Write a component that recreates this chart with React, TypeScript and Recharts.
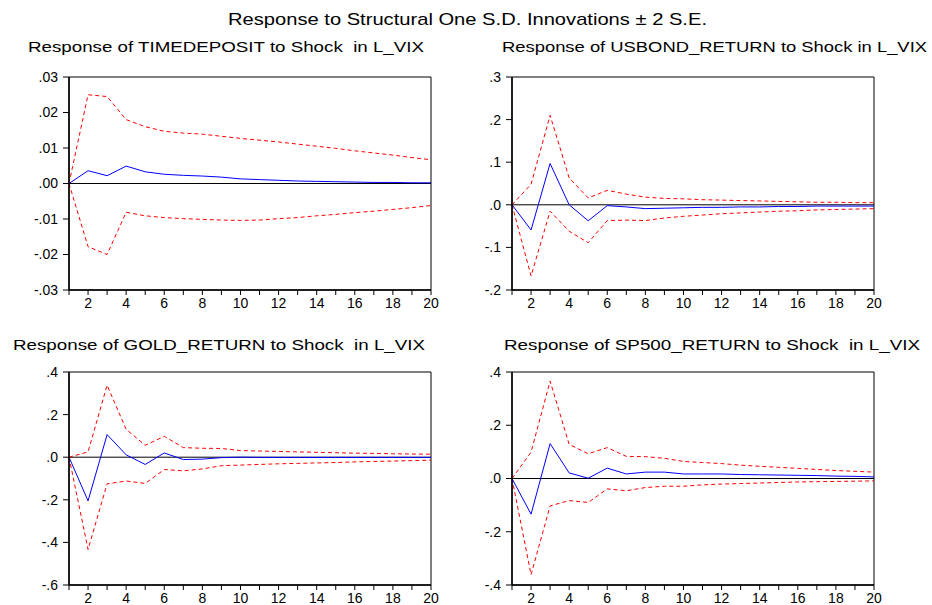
import React from 'react';
import { LineChart, Line, XAxis, YAxis, ReferenceLine, ReferenceArea } from 'recharts';

const periods = [1,2,3,4,5,6,7,8,9,10,11,12,13,14,15,16,17,18,19,20];
const xTicks = periods;

// TIMEDEPOSIT
const tdResp = [0,0.0036,0.0022,0.0049,0.0033,0.0026,0.0023,0.0021,0.0018,0.0013,0.0011,0.0009,0.0007,0.0006,0.0005,0.0004,0.0003,0.0003,0.0002,0.0002];
const tdUp = [0,0.025,0.0245,0.018,0.016,0.0147,0.0142,0.0139,0.0133,0.0127,0.0122,0.0117,0.0111,0.0105,0.0099,0.0092,0.0086,0.008,0.0073,0.0067];
const tdLo = [0,-0.0178,-0.02,-0.0081,-0.0091,-0.0096,-0.0099,-0.0101,-0.0103,-0.0104,-0.0103,-0.0099,-0.0096,-0.0091,-0.0087,-0.0082,-0.0078,-0.0073,-0.0068,-0.0062];
const tdTicks = [-0.03,-0.02,-0.01,0,0.01,0.02,0.03];

// USBOND_RETURN
const ubResp = [0,-0.059,0.097,0.0,-0.0375,-0.002,-0.005,-0.009,-0.008,-0.007,-0.006,-0.006,-0.005,-0.005,-0.004,-0.004,-0.003,-0.003,-0.003,-0.003];
const ubUp = [0,0.048,0.21,0.063,0.016,0.034,0.025,0.018,0.015,0.014,0.012,0.011,0.01,0.009,0.008,0.007,0.006,0.006,0.005,0.005];
const ubLo = [0,-0.167,-0.015,-0.062,-0.089,-0.037,-0.036,-0.037,-0.031,-0.027,-0.024,-0.021,-0.019,-0.017,-0.015,-0.014,-0.012,-0.011,-0.01,-0.009];
const ubTicks = [-0.2,-0.1,0,0.1,0.2,0.3];

// GOLD_RETURN
const gdResp = [0,-0.205,0.106,0.011,-0.034,0.02,-0.011,-0.009,-0.002,0,-0.001,-0.001,-0.001,-0.001,-0.001,-0.001,-0.001,-0.001,-0.001,-0.001];
const gdUp = [0,0.025,0.338,0.131,0.056,0.098,0.045,0.042,0.041,0.031,0.029,0.027,0.025,0.023,0.021,0.019,0.018,0.016,0.015,0.014];
const gdLo = [0,-0.433,-0.125,-0.112,-0.123,-0.058,-0.064,-0.055,-0.04,-0.037,-0.034,-0.031,-0.029,-0.027,-0.025,-0.022,-0.02,-0.018,-0.016,-0.014];
const gdTicks = [-0.6,-0.4,-0.2,0,0.2,0.4];

// SP500_RETURN
const spResp = [0,-0.134,0.131,0.021,0.001,0.039,0.017,0.024,0.024,0.017,0.017,0.017,0.015,0.014,0.013,0.012,0.011,0.009,0.008,0.006];
const spUp = [0,0.099,0.366,0.128,0.093,0.116,0.083,0.082,0.076,0.064,0.06,0.056,0.05,0.046,0.042,0.038,0.034,0.03,0.027,0.024];
const spLo = [0,-0.361,-0.103,-0.083,-0.09,-0.039,-0.046,-0.034,-0.029,-0.029,-0.024,-0.021,-0.019,-0.017,-0.015,-0.013,-0.012,-0.011,-0.01,-0.009];
const spTicks = [-0.4,-0.2,0,0.2,0.4];

const mainTitle = 'Response to Structural One S.D. Innovations \u00b1 2 S.E.';
const titles = [
  'Response of TIMEDEPOSIT to Shock  in L_VIX',
  'Response of USBOND_RETURN to Shock in L_VIX',
  'Response of GOLD_RETURN to Shock  in L_VIX',
  'Response of SP500_RETURN to Shock  in L_VIX',
];

const FONT = '"Liberation Sans", Arial, sans-serif';

function build(resp: number[], up: number[], lo: number[]) {
  return periods.map((p, i) => ({ p, resp: resp[i], up: up[i], lo: lo[i] }));
}

function fmt(decimals: number) {
  return (v: number) => {
    let s = v.toFixed(decimals);
    if (s.startsWith('-0')) s = '-' + s.slice(2);
    else if (s.startsWith('0')) s = s.slice(1);
    return s;
  };
}

type PanelProps = {
  left: number; top: number;
  resp: number[]; up: number[]; lo: number[];
  ticks: number[]; decimals: number;
};

function Panel({ left, top, resp, up, lo, ticks, decimals }: PanelProps) {
  const data = build(resp, up, lo);
  const yMin = ticks[0];
  const yMax = ticks[ticks.length - 1];
  const tickStyle = { fill: '#000', fontSize: 14, fontFamily: FONT };
  return (
    <div style={{ position: 'absolute', left, top }}>
      <LineChart width={470} height={270} data={data} margin={{ top: 17, right: 39, bottom: 10, left: 0 }}>
        <XAxis
          dataKey="p" type="number" domain={[1, 20]} ticks={xTicks} interval={0}
          tickFormatter={(v: number) => (v % 2 === 0 ? String(v) : '')}
          tick={tickStyle} tickSize={5} tickMargin={3} height={30}
          axisLine={{ stroke: '#000', strokeWidth: 1.5 }} tickLine={{ stroke: '#000' }}
          allowDataOverflow
        />
        <YAxis
          type="number" domain={[yMin, yMax]} ticks={ticks} interval={0}
          tickFormatter={fmt(decimals)} tick={tickStyle} tickSize={6} tickMargin={5} width={69}
          axisLine={{ stroke: '#000', strokeWidth: 1.5 }} tickLine={{ stroke: '#000' }}
          allowDataOverflow
        />
        <ReferenceArea x1={1} x2={20} y1={yMin} y2={yMax} fill="none" stroke="#000" strokeWidth={1} />
        <ReferenceLine y={0} stroke="#000" strokeWidth={1} />
        <Line type="linear" dataKey="up" stroke="#ff0000" strokeDasharray="4 3" strokeWidth={1} dot={false} isAnimationActive={false} />
        <Line type="linear" dataKey="lo" stroke="#ff0000" strokeDasharray="4 3" strokeWidth={1} dot={false} isAnimationActive={false} />
        <Line type="linear" dataKey="resp" stroke="#0000ff" strokeWidth={1} dot={false} isAnimationActive={false} />
      </LineChart>
    </div>
  );
}

export default function App() {
  const ts = { whiteSpace: 'pre' as const };
  return (
    <div style={{ position: 'absolute', left: 0, top: 0, width: 932, height: 605, background: '#fff', fontFamily: FONT }}>
      <svg width={932} height={605} style={{ position: 'absolute', left: 0, top: 0 }}>
        <text style={ts} x={228} y={25} fontSize={17} fontFamily={FONT} fill="#000" textLength={479} lengthAdjust="spacingAndGlyphs">{mainTitle}</text>
        <text style={ts} x={28} y={52} fontSize={15} fontFamily={FONT} fill="#000" textLength={396} lengthAdjust="spacingAndGlyphs">{titles[0]}</text>
        <text style={ts} x={502} y={52} fontSize={15} fontFamily={FONT} fill="#000" textLength={425} lengthAdjust="spacingAndGlyphs">{titles[1]}</text>
        <text style={ts} x={13} y={350} fontSize={15} fontFamily={FONT} fill="#000" textLength={412} lengthAdjust="spacingAndGlyphs">{titles[2]}</text>
        <text style={ts} x={504} y={350} fontSize={15} fontFamily={FONT} fill="#000" textLength={416} lengthAdjust="spacingAndGlyphs">{titles[3]}</text>
      </svg>
      <Panel left={0} top={60} resp={tdResp} up={tdUp} lo={tdLo} ticks={tdTicks} decimals={2} />
      <Panel left={443} top={60} resp={ubResp} up={ubUp} lo={ubLo} ticks={ubTicks} decimals={1} />
      <Panel left={0} top={355} resp={gdResp} up={gdUp} lo={gdLo} ticks={gdTicks} decimals={1} />
      <Panel left={443} top={355} resp={spResp} up={spUp} lo={spLo} ticks={spTicks} decimals={1} />
    </div>
  );
}
